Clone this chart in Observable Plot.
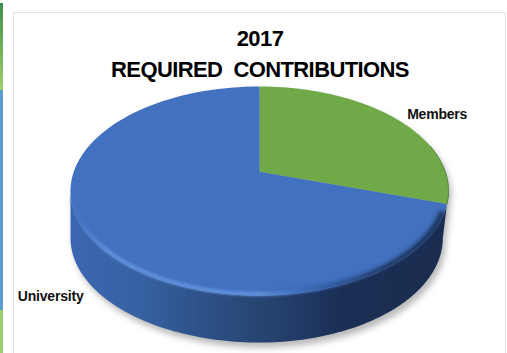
<!DOCTYPE html>
<html>
<head>
<meta charset="utf-8">
<script src="https://cdn.jsdelivr.net/npm/d3@7"></script>
<script src="https://cdn.jsdelivr.net/npm/@observablehq/plot@0.6"></script>
<style>
  html, body { margin: 0; padding: 0; background: #fff; }
  #page { position: relative; width: 507px; height: 353px; overflow: hidden; }
  #page svg { position: absolute; left: 0; top: 0; }
  .frame { position: absolute; background: #e3e3e3; }
  .strip { position: absolute; left: 0; width: 2.5px; }
  .chart-title text { letter-spacing: -0.6px; }
  .slice-label text { letter-spacing: -0.2px; }
</style>
</head>
<body>
<div id="page">
  <div class="strip" style="top:3px;height:87px;background:linear-gradient(#3f8f4a,#9fd06a)"></div>
  <div class="strip" style="top:90px;height:220px;background:#5b9bd5"></div>
  <div class="strip" style="top:310px;height:43px;background:#9bcf6a"></div>
  <div class="frame" style="left:13px;top:12px;width:492px;height:1px"></div>
  <div class="frame" style="left:13px;top:12px;width:1px;height:341px"></div>
  <div class="frame" style="left:505px;top:12px;width:1px;height:341px"></div>
</div>
<script>
// Contribution shares by source
const sliceNames = ["Members", "University"];
const sliceValues = [27, 73];
const sliceColors = ["#6fa948", "#4271bf"];

// Data labels, in pie units
const labelNames = ["Members", "University"];
const labelX = [0.94, -1.105];
const labelY = [0.73, -1.005];

const chartTitle = "2017\nREQUIRED\u00a0\u00a0CONTRIBUTIONS";

// Tilted pie: the apex sits above the rim ellipse's centre, and the wall drops by `depth`
const apexY = 0.185;
const depth = 0.45;
const farSidePinch = 0.97;

const rimPoint = (t) => ({x: Math.sin(t), y: Math.cos(t)});
const arcPoints = (a0, a1) => d3.range(0, 121).map((i) => rimPoint(a0 + (a1 - a0) * i / 120));
const dropped = (p) => ({x: p.x > 0 ? p.x * farSidePinch : p.x, y: p.y - depth});

const arcs = d3.pie().sort(null)(sliceValues);
const slices = arcs.flatMap((a, i) => [
  {x: 0, y: apexY, name: sliceNames[i]},
  ...arcPoints(a.startAngle, a.endAngle).map((p) => ({...p, name: sliceNames[i]}))
]);

const frontRim = arcPoints(Math.PI / 2, 3 * Math.PI / 2);
const wall = [...frontRim, ...frontRim.slice().reverse().map(dropped)];
const outline = [...arcPoints(-Math.PI / 2, Math.PI / 2), ...frontRim.map(dropped)];
const memberEnd = arcs[0].endAngle;
const bevel = arcPoints(memberEnd + 0.1, 1.47 * Math.PI).map((p) => ({x: p.x * 0.992, y: p.y}));
const innerShade = arcPoints(memberEnd + 0.1, Math.PI).map((p) => ({x: p.x * 0.985, y: p.y * 0.985}));
const memberEdge = arcPoints(Math.PI * 0.36, memberEnd);

const stops = (id, list) => {
  const g = d3.create("svg:linearGradient").attr("id", id);
  list.forEach(([offset, color, opacity = 1]) =>
    g.append("stop").attr("offset", offset).attr("stop-color", color).attr("stop-opacity", opacity));
  return g.node();
};

const gradients = () => {
  const defs = d3.create("svg:defs");
  defs.append(() => stops("wallShade", [
    [0.03, "#3b67b0"], [0.21, "#365f9f"], [0.34, "#2e5288"], [0.48, "#284675"],
    [0.61, "#213a65"], [0.72, "#1b2f54"], [1, "#1a2d50"]
  ]));
  defs.append(() => stops("bevelShade", [
    [0, "#4271bf"], [0.1, "#6496e2"], [0.5, "#6496e2"], [0.62, "#4271bf"],
    [0.72, "#2f5596"], [0.85, "#1e3763"], [1, "#1b3058"]
  ]));
  defs.append(() => stops("innerFade", [
    [0, "#1e3763", 0], [0.55, "#1e3763", 0.55], [1, "#1e3763", 0.8]
  ]));
  return defs.node();
};

const plot = Plot.plot({
  width: 507,
  height: 353,
  margin: 0,
  style: {background: "transparent", overflow: "visible"},
  x: {domain: [-1, 1], range: [70, 448], axis: null},
  y: {domain: [-1, 1], range: [295, 86], axis: null},
  color: {domain: sliceNames, range: sliceColors},
  marks: [
    gradients,
    // Soft ground shadow
    Plot.line(outline, {x: "x", y: "y", fill: "#8a8a8a", stroke: "none", dx: 3, dy: 5, fillOpacity: 0.6, imageFilter: "blur(3px)"}),
    // Side wall
    Plot.line(wall, {x: "x", y: "y", fill: "url(#wallShade)", stroke: "none"}),
    // Top face
    Plot.line(slices, {x: "x", y: "y", z: "name", fill: "name", stroke: "none"}),
    // Bevel along the front of the top face
    Plot.line(innerShade, {x: "x", y: "y", stroke: "url(#innerFade)", strokeWidth: 5, imageFilter: "blur(2.5px)"}),
    Plot.line(bevel, {x: "x", y: "y", dy: -1.5, stroke: "url(#bevelShade)", strokeWidth: 3.5, imageFilter: "blur(1.5px)"}),
    Plot.line(memberEdge, {x: "x", y: "y", stroke: "#4a7a30", strokeWidth: 1, imageFilter: "blur(0.6px)"}),
    // Labels
    Plot.text(labelNames, {
      x: (d, i) => labelX[i],
      y: (d, i) => labelY[i],
      text: (d) => d,
      className: "slice-label",
      fontFamily: "Liberation Sans",
      fontWeight: "bold",
      fontSize: 14,
      fill: "#111"
    }),
    Plot.text([chartTitle], {
      text: (d) => d,
      className: "chart-title",
      frameAnchor: "top",
      dx: 6,
      dy: 23,
      lineHeight: 1.42,
      fontFamily: "Liberation Sans",
      fontWeight: "bold",
      fontSize: 22,
      fill: "#000"
    })
  ]
});
document.getElementById("page").append(plot);
</script>
</body>
</html>
